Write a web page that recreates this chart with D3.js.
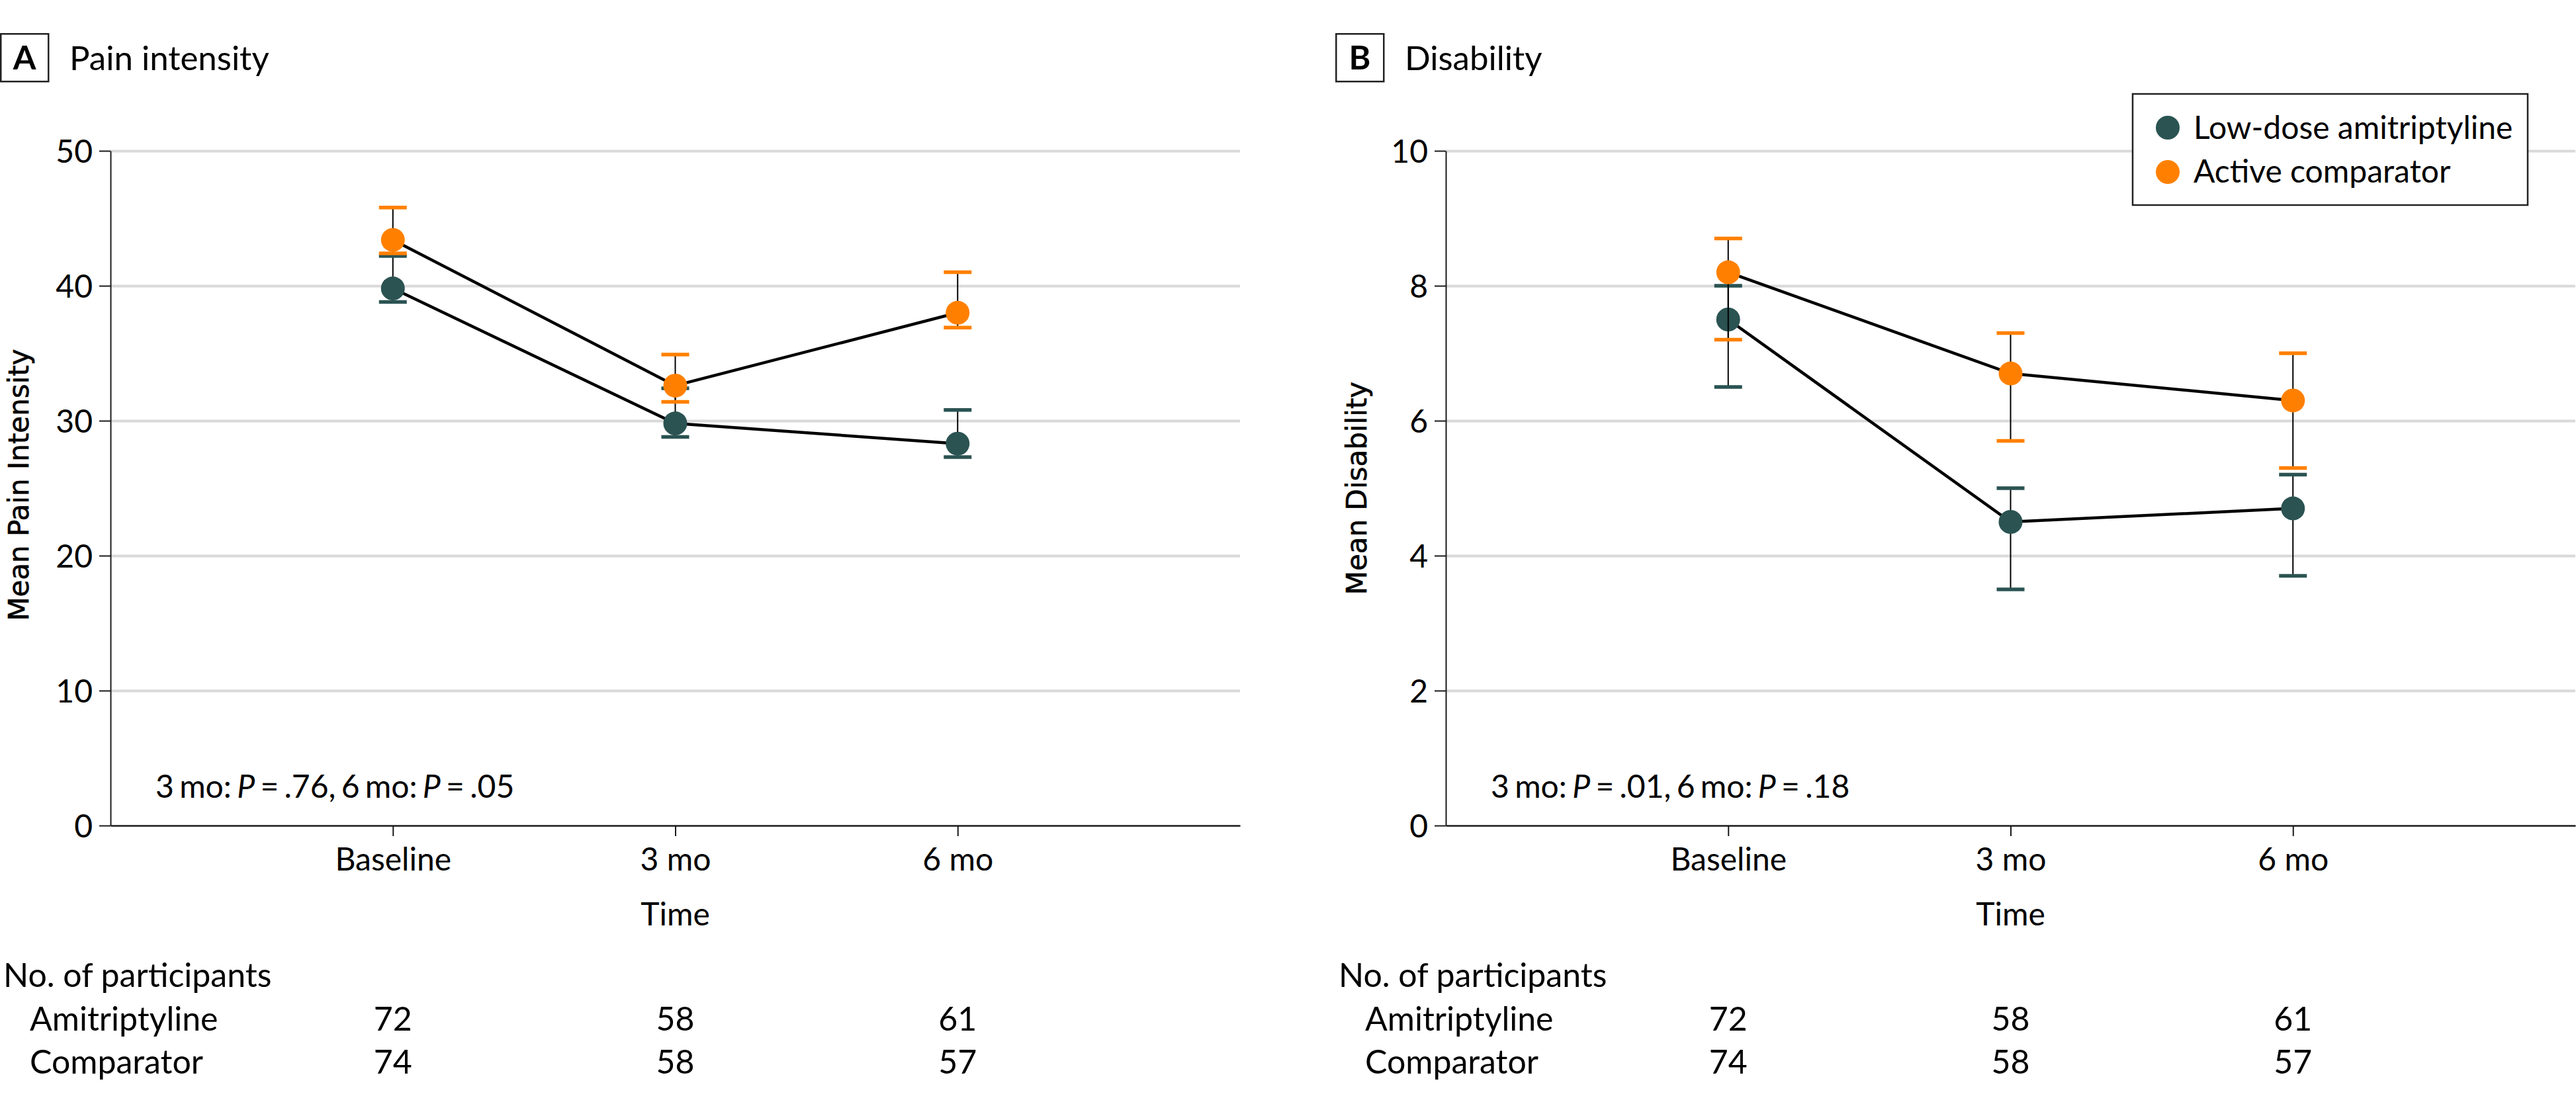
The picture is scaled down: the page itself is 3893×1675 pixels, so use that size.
<!DOCTYPE html>
<html><head><meta charset="utf-8">
<script src="https://cdn.jsdelivr.net/npm/d3@7"></script>
<style>body{margin:0;background:#fff} svg{display:block}</style>
</head><body>
<svg id="chart" width="3893" height="1675"></svg>
<script>
// ---------- data ----------
const timepoints = ["Baseline", "3 mo", "6 mo"];

const painTicks = [0, 10, 20, 30, 40, 50];
const painAmiMean = [39.8, 29.8, 28.3];
const painAmiLow  = [38.8, 28.8, 27.3];
const painAmiHigh = [42.2, 32.4, 30.8];
const painCompMean = [43.4, 32.6, 38.0];
const painCompLow  = [42.4, 31.4, 36.9];
const painCompHigh = [45.8, 34.9, 41.0];

const disTicks = [0, 2, 4, 6, 8, 10];
const disAmiMean = [7.5, 4.5, 4.7];
const disAmiLow  = [6.5, 3.5, 3.7];
const disAmiHigh = [8.0, 5.0, 5.2];
const disCompMean = [8.2, 6.7, 6.3];
const disCompLow  = [7.2, 5.7, 5.3];
const disCompHigh = [8.7, 7.3, 7.0];

const nAmi  = [72, 58, 61];
const nComp = [74, 58, 57];

const seriesNames = ["Low-dose amitriptyline", "Active comparator"];
const rowLabels = ["Amitriptyline", "Comparator"];

// ---------- style ----------
const FONT = "Lato, 'Noto Sans', sans-serif";
const COL_AMI = "#2a5352";
const COL_COMP = "#ff8000";

const svg = d3.select("#chart").style("font-family", FONT);

function panel(o) {
  const g = svg.append("g").attr("transform", `translate(${o.ox},0)`);
  const left = 167, right = 1874, top = 228, bottom = 1248;
  const x = d3.scaleLinear().domain([0, 4]).range([left, right]);
  const y = d3.scaleLinear().domain([0, o.ticks[o.ticks.length - 1]]).range([bottom, top]);

  // panel letter + title
  g.append("rect").attr("x", 1.25).attr("y", 51.25).attr("width", 72).attr("height", 72)
    .attr("fill", "none").attr("stroke", "#222").attr("stroke-width", 2.5);
  g.append("text").attr("x", 37).attr("y", 105).attr("text-anchor", "middle")
    .attr("font-weight", 700).attr("font-size", 50).attr("fill", "#000").text(o.letter);
  g.append("text").attr("x", 105).attr("y", 106).attr("font-size", 51).attr("fill", "#000").text(o.title);

  // gridlines
  g.append("g").attr("transform", `translate(${left},0)`)
    .call(d3.axisLeft(y).tickValues(o.ticks.filter(t => t > 0)).tickSize(-(right - left)).tickFormat(""))
    .call(s => s.select(".domain").remove())
    .selectAll("line").attr("stroke", "#d9d9d9").attr("stroke-width", 4);

  // y axis
  const ya = g.append("g").attr("transform", `translate(${left},0)`)
    .call(d3.axisLeft(y).tickValues(o.ticks).tickSize(17).tickSizeOuter(0).tickPadding(10));
  ya.select(".domain").attr("stroke", "#1a1a1a").attr("stroke-width", 2);
  ya.selectAll(".tick line").attr("stroke", "#1a1a1a").attr("stroke-width", 2);
  ya.selectAll("text").attr("font-size", 48).attr("font-family", FONT).attr("fill", "#000").attr("dy", "0.36em");

  // x axis
  const xa = g.append("g").attr("transform", `translate(0,${bottom})`)
    .call(d3.axisBottom(x).tickValues([1, 2, 3]).tickFormat(d => timepoints[d - 1]).tickSize(16).tickSizeOuter(0));
  xa.select(".domain").attr("stroke", "#1a1a1a").attr("stroke-width", 2.5);
  xa.selectAll(".tick line").attr("stroke", "#1a1a1a").attr("stroke-width", 2);
  xa.selectAll("text").attr("font-size", 48).attr("font-family", FONT).attr("fill", "#000")
    .attr("y", 68).attr("dy", null);

  // axis titles
  g.append("text").attr("transform", `translate(${o.ytx},${o.yty}) rotate(-90)`)
    .attr("text-anchor", "middle").attr("font-family", "'DejaVu Sans', sans-serif")
    .attr("font-size", 42).attr("fill", "#000").attr("stroke", "#000").attr("stroke-width", 0.6)
    .text(o.ytitle);
  g.append("text").attr("x", (left + right) / 2).attr("y", 1399).attr("text-anchor", "middle")
    .attr("font-size", 48).attr("fill", "#000").text("Time");

  // p-value annotation
  const pt = g.append("text").attr("x", left + 68).attr("y", 1206).attr("font-size", 48)
    .attr("word-spacing", -4).attr("fill", "#000");
  pt.append("tspan").text("3 mo: ");
  pt.append("tspan").attr("font-style", "italic").text("P");
  pt.append("tspan").text(` = ${o.p3}, 6 mo: `);
  pt.append("tspan").attr("font-style", "italic").text("P");
  pt.append("tspan").text(` = ${o.p6}`);

  // series
  const series = [
    { mean: o.amiMean, low: o.amiLow, high: o.amiHigh, color: COL_AMI },
    { mean: o.compMean, low: o.compLow, high: o.compHigh, color: COL_COMP }
  ];
  const line = d3.line().x((d, i) => x(i + 1)).y(d => y(d));
  series.forEach(s => {
    g.append("path").attr("d", line(s.mean)).attr("fill", "none")
      .attr("stroke", "#000").attr("stroke-width", 4.5);
  });
  series.forEach(s => {
    const sg = g.append("g");
    s.mean.forEach((m, i) => {
      const cx = x(i + 1);
      sg.append("line").attr("x1", cx).attr("x2", cx).attr("y1", y(s.low[i])).attr("y2", y(s.high[i]))
        .attr("stroke", "#000").attr("stroke-width", 2);
      [s.low[i], s.high[i]].forEach(v => {
        sg.append("line").attr("x1", cx - 21).attr("x2", cx + 21).attr("y1", y(v)).attr("y2", y(v))
          .attr("stroke", s.color).attr("stroke-width", 5.5);
      });
      sg.append("circle").attr("cx", cx).attr("cy", y(m)).attr("r", 18).attr("fill", s.color);
    });
  });

  // participants table
  g.append("text").attr("x", 5).attr("y", 1492).attr("font-size", 50).attr("fill", "#000").text("No. of participants");
  [nAmi, nComp].forEach((row, r) => {
    const by = r === 0 ? 1558 : 1623;
    g.append("text").attr("x", 45).attr("y", by).attr("font-size", 50).attr("fill", "#000").text(rowLabels[r]);
    row.forEach((n, i) => {
      g.append("text").attr("x", x(i + 1)).attr("y", by).attr("text-anchor", "middle")
        .attr("font-size", 50).attr("fill", "#000").text(n);
    });
  });
  return { g, x, y };
}

panel({ ox: 0, letter: "A", title: "Pain intensity", ticks: painTicks, ytitle: "Mean Pain Intensity",
  ytx: 43, yty: 733, p3: ".76", p6: ".05",
  amiMean: painAmiMean, amiLow: painAmiLow, amiHigh: painAmiHigh,
  compMean: painCompMean, compLow: painCompLow, compHigh: painCompHigh });

panel({ ox: 2018, letter: "B", title: "Disability", ticks: disTicks, ytitle: "Mean Disability",
  ytx: 47, yty: 738, p3: ".01", p6: ".18",
  amiMean: disAmiMean, amiLow: disAmiLow, amiHigh: disAmiHigh,
  compMean: disCompMean, compLow: disCompLow, compHigh: disCompHigh });

// legend (in panel B)
const lg = svg.append("g");
lg.append("rect").attr("x", 3223).attr("y", 142).attr("width", 597).attr("height", 168)
  .attr("fill", "#fff").attr("stroke", "#222").attr("stroke-width", 2.5);
[COL_AMI, COL_COMP].forEach((c, i) => {
  lg.append("circle").attr("cx", 3276).attr("cy", 193 + i * 67).attr("r", 18).attr("fill", c);
  lg.append("text").attr("x", 3315).attr("y", 210 + i * 66).attr("font-size", 48).attr("fill", "#000")
    .text(seriesNames[i]);
});
</script>
</body></html>
